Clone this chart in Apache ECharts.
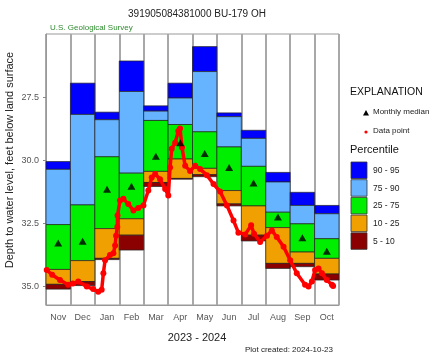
<!DOCTYPE html>
<html>
<head>
<meta charset="utf-8">
<script src="https://cdn.jsdelivr.net/npm/echarts@6/dist/echarts.min.js"></script>
<style>
html,body{margin:0;padding:0;background:#fff;}
#chart{width:445px;height:356px;}
</style>
</head>
<body>
<div id="chart"></div>
<script>
// ---- data (depth to water level, feet below land surface) ----
const months = ['Nov','Dec','Jan','Feb','Mar','Apr','May','Jun','Jul','Aug','Sep','Oct'];
const p95 = [30.06, 26.95, 28.10, 26.07, 27.85, 26.95, 25.50, 28.13, 28.82, 30.49, 31.28, 31.80];
const p90 = [30.37, 28.19, 28.40, 27.28, 28.06, 27.54, 26.49, 28.28, 29.14, 30.87, 31.80, 32.13];
const p75 = [32.56, 31.78, 29.87, 30.52, 28.43, 28.59, 28.88, 29.48, 30.25, 32.07, 32.53, 33.12];
const p25 = [34.34, 33.99, 32.72, 32.33, 30.45, 29.96, 30.33, 31.21, 31.82, 32.68, 33.65, 33.90];
const p10 = [34.93, 34.82, 33.90, 32.98, 30.89, 30.73, 30.58, 31.74, 32.98, 34.10, 34.10, 34.52];
const p05 = [35.12, 34.98, 33.95, 33.57, 31.05, 30.76, 30.66, 31.82, 33.21, 34.30, 34.23, 34.76];
const medians = [33.29, 33.22, 31.16, 31.04, 29.85, 29.31, 29.74, 30.30, 30.91, 32.26, 33.08, 33.62];

// observed data points: position in months since Nov 1, depth
const obsPos = [0.03,0.25,0.57,0.91,1.10,1.32,1.67,1.93,2.14,2.28,2.35,2.42,2.62,2.76,2.83,2.87,2.92,2.93,
  3.03,3.17,3.37,3.58,3.78,3.99,4.19,4.33,4.47,4.67,4.88,5.01,5.08,5.15,5.29,5.42,5.49,5.57,5.70,5.90,
  6.11,6.31,6.59,6.86,7.13,7.41,7.68,7.88,8.16,8.40,8.52,8.77,9.05,9.25,9.45,9.73,10.00,10.27,10.61,
  10.75,10.89,11.02,11.16,11.30,11.50,11.71,11.76];
const obsDepth = [34.36,34.55,34.76,34.95,34.90,34.82,35.02,35.12,35.22,35.15,34.49,33.97,33.77,33.70,33.39,33.00,32.66,32.20,
  31.60,31.54,31.74,32.00,31.90,31.80,31.21,30.69,30.55,30.76,31.15,31.41,30.30,29.55,29.31,28.85,28.75,29.50,30.23,30.43,
  30.23,30.36,30.60,30.95,31.25,31.80,32.40,32.88,32.95,32.59,32.92,33.25,33.00,32.79,33.05,33.44,33.97,34.49,34.95,
  35.02,34.82,34.36,34.30,34.49,34.76,34.95,35.00];

const yTicks = ['27.5','30.0','32.5','35.0'];
const legendItems = [['90 - 95','#0000ff'],['75 - 90','#66b3ff'],['25 - 75','#00ee00'],['10 - 25','#f0a000'],['5 - 10','#8b0000']];

const bandColors = legendItems.map(d => d[1]);
const boxData = months.map((m, i) => [i, p95[i], p90[i], p75[i], p25[i], p10[i], p05[i]]);
const obsData = obsPos.map((x, i) => [x, obsDepth[i]]);

const chart = echarts.init(document.getElementById('chart'), null, {renderer: 'canvas'});
const FONT = 'Liberation Sans, Arial, sans-serif';

const legendGraphics = [
  {type:'text', left:350, top:87, style:{text:'EXPLANATION', font:'10.5px ' + FONT, fill:'#111'}},
  {type:'text', left:373, top:108, style:{text:'Monthly median', font:'8px ' + FONT, fill:'#222'}},
  {type:'text', left:373, top:127, style:{text:'Data point', font:'8px ' + FONT, fill:'#222'}},
  {type:'polygon', shape:{points:[[366,110],[363,115.5],[369,115.5]]}, style:{fill:'#000'}},
  {type:'circle', shape:{cx:366, cy:132, r:1.6}, style:{fill:'#ff0000'}},
  {type:'text', left:350, top:144, style:{text:'Percentile', font:'11px ' + FONT, fill:'#111'}}
];
legendItems.forEach((d, k) => {
  const y0 = 162 + k * 17.7;
  legendGraphics.push({type:'rect', shape:{x:351, y:y0, width:16, height:16.5}, style:{fill:d[1], stroke:'#333', lineWidth:0.8}});
  legendGraphics.push({type:'text', left:373, top:y0 + 4, style:{text:d[0], font:'8.5px ' + FONT, fill:'#222'}});
});

const option = {
  animation: false,
  backgroundColor: '#fff',
  textStyle: {fontFamily: FONT},
  title: [
    {text:'391905084381000 BU-179 OH', left:192, top:4, textAlign:'center',
     textStyle:{fontSize:10, fontWeight:'normal', color:'#222', fontFamily:FONT}},
    {text:'U.S. Geological Survey', left:45, top:19,
     textStyle:{fontSize:8, fontWeight:'normal', color:'#2e8b2e', fontFamily:FONT}},
    {text:'2023 - 2024', left:192, top:327, textAlign:'center',
     textStyle:{fontSize:11, fontWeight:'normal', color:'#222', fontFamily:FONT}},
    {text:'Plot created: 2024-10-23', right:107, top:341,
     textStyle:{fontSize:8, fontWeight:'normal', color:'#222', fontFamily:FONT}}
  ],
  grid: {left:46, top:34, width:293, height:271, show:true, borderColor:'#999', borderWidth:1, backgroundColor:'#fff'},
  xAxis: [
    {type:'category', data:months, boundaryGap:true, gridIndex:0,
     axisLine:{show:true, lineStyle:{color:'#999'}}, axisTick:{show:false},
     axisLabel:{color:'#555', fontSize:9, margin:8, interval:0, fontFamily:FONT},
     splitLine:{show:true, interval:0, lineStyle:{color:'#a8a8a8', width:2}}},
    {type:'value', min:0, max:12, show:false, gridIndex:0}
  ],
  yAxis: [
    {type:'value', inverse:true, min:25, max:35.75, interval:2.5,
     axisLine:{show:true, lineStyle:{color:'#999'}},
     axisTick:{show:true, length:3, lineStyle:{color:'#888'}},
     axisLabel:{color:'#555', fontSize:9, margin:7, showMinLabel:false, showMaxLabel:false,
       fontFamily:FONT, formatter: v => { const s = v.toFixed(1); return yTicks.indexOf(s) >= 0 ? s : ''; }},
     splitLine:{show:false}}
  ],
  graphic: [
    {type:'text', x:10, y:160, rotation:Math.PI/2,
     style:{text:'Depth to water level, feet below land surface', font:'11px ' + FONT, fill:'#222',
            align:'center', verticalAlign:'middle'}}
  ].concat(legendGraphics),
  series: [
    {type:'custom', xAxisIndex:0, yAxisIndex:0, data:boxData, z:2,
     encode:{x:0, y:[1,2,3,4,5,6]},
     renderItem: function(params, api) {
       const i = api.value(0);
       const w = api.size([1, 0])[0];
       const children = [];
       for (let k = 0; k < 5; k++) {
         const a = api.coord([i, api.value(k + 1)]);
         const b = api.coord([i, api.value(k + 2)]);
         children.push({type:'rect',
           shape:{x:a[0] - w / 2, y:a[1], width:w, height:b[1] - a[1]},
           style:{fill:bandColors[k], stroke:'#222', lineWidth:0.7}});
       }
       return {type:'group', children: children};
     }},
    {type:'line', xAxisIndex:1, yAxisIndex:0, data:obsData, z:3,
     symbol:'circle', symbolSize:6, showSymbol:true,
     lineStyle:{color:'#ff0000', width:3.5}, itemStyle:{color:'#ff0000'}},
    {type:'scatter', xAxisIndex:0, yAxisIndex:0, data:medians, z:4,
     symbol:'triangle', symbolSize:[8,7], itemStyle:{color:'#000'}}
  ]
};
chart.setOption(option);
</script>
</body>
</html>
